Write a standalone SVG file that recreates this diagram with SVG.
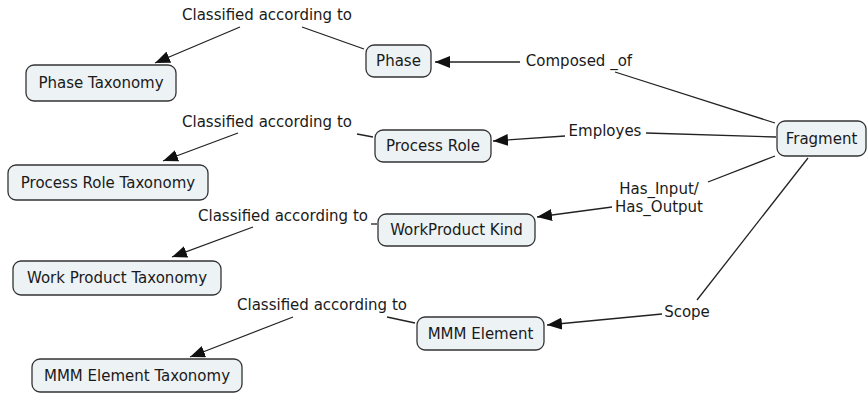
<svg xmlns="http://www.w3.org/2000/svg" width="868" height="393" viewBox="0 0 868 393">
<style>
.node rect{fill:#edf2f5;stroke:#333;stroke-width:1.3}
text{font-family:"DejaVu Sans",Verdana,sans-serif;font-size:15px;fill:#1a1a1a;text-anchor:middle}
.conn line{stroke:#222;stroke-width:1.3}
.arr{marker-end:url(#ah)}
</style>
<defs>
<marker id="ah" markerUnits="userSpaceOnUse" markerWidth="15" markerHeight="12" refX="15" refY="6" orient="auto">
<path d="M0,0 L15,6 L0,12 z" fill="#111"/>
</marker>
</defs>
<rect width="868" height="393" fill="#fff"/>
<g id="connectors" class="conn">
<line x1="364" y1="49" x2="302" y2="27"/>
<line class="arr" x1="240" y1="27" x2="155" y2="63"/>
<line x1="775" y1="123" x2="615" y2="72"/>
<line class="arr" x1="520" y1="62" x2="435" y2="62"/>
<line x1="776" y1="137" x2="646" y2="133"/>
<line class="arr" x1="565" y1="136" x2="493" y2="141"/>
<line x1="373" y1="137" x2="357" y2="134"/>
<line class="arr" x1="238" y1="133" x2="163" y2="161"/>
<line x1="775" y1="156" x2="708" y2="182"/>
<line class="arr" x1="612" y1="207" x2="537" y2="217"/>
<line x1="377" y1="224" x2="371" y2="224"/>
<line class="arr" x1="253" y1="227" x2="172" y2="257"/>
<line x1="808" y1="158" x2="697" y2="300"/>
<line class="arr" x1="662" y1="314" x2="547" y2="325"/>
<line x1="415" y1="323" x2="387" y2="317"/>
<line class="arr" x1="293" y1="317" x2="190" y2="357"/>
</g>
<g id="labels">
<text x="267" y="20">Classified according to</text>
<text x="267" y="127">Classified according to</text>
<text x="283" y="221">Classified according to</text>
<text x="322" y="310">Classified according to</text>
<text x="579" y="66">Composed _of</text>
<text x="605" y="136">Employes</text>
<text x="659" y="194">Has_Input/</text>
<text x="659" y="212">Has_Output</text>
<text x="687" y="317">Scope</text>
</g>
<g id="phase-taxonomy" class="node"><rect x="26" y="65" width="150" height="36" rx="8"/><text x="101" y="88">Phase Taxonomy</text></g>
<g id="phase" class="node"><rect x="366" y="45" width="65" height="32" rx="8"/><text x="398.5" y="66">Phase</text></g>
<g id="process-role-taxonomy" class="node"><rect x="8" y="165" width="200" height="35" rx="8"/><text x="108" y="188">Process Role Taxonomy</text></g>
<g id="process-role" class="node"><rect x="375" y="130" width="116" height="32" rx="8"/><text x="433" y="151">Process Role</text></g>
<g id="work-product-taxonomy" class="node"><rect x="13" y="261" width="208" height="34" rx="8"/><text x="117" y="283">Work Product Taxonomy</text></g>
<g id="workproduct-kind" class="node"><rect x="378" y="214" width="157" height="32" rx="8"/><text x="456.5" y="235">WorkProduct Kind</text></g>
<g id="mmm-element-taxonomy" class="node"><rect x="32" y="359" width="210" height="33" rx="8"/><text x="137" y="381">MMM Element Taxonomy</text></g>
<g id="mmm-element" class="node"><rect x="417" y="317" width="127" height="33" rx="8"/><text x="480.5" y="339">MMM Element</text></g>
<g id="fragment" class="node"><rect x="777" y="121" width="89" height="35" rx="8"/><text x="821.5" y="144">Fragment</text></g>
</svg>
